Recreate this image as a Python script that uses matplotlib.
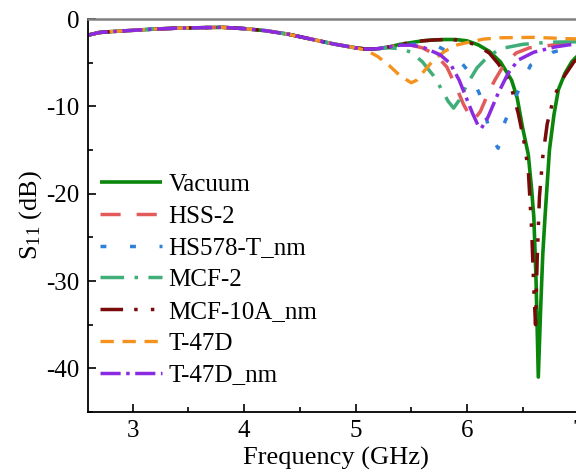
import matplotlib
matplotlib.use("Agg")
import matplotlib.pyplot as plt
from matplotlib.ticker import MultipleLocator

plt.rcParams['font.family'] = ['Liberation Serif', 'DejaVu Serif']
plt.rcParams['mathtext.fontset'] = 'custom'
plt.rcParams['mathtext.rm'] = 'Liberation Serif'
plt.rcParams['mathtext.it'] = 'Liberation Serif:italic'
plt.rcParams['axes.unicode_minus'] = False

# common part of all curves (GHz, dB)
base_f = [2.6, 2.7, 2.8, 3.0, 3.2, 3.4, 3.6, 3.8, 4.0, 4.2, 4.4, 4.6, 4.8, 5.0]
base_v = [-1.85, -1.55, -1.45, -1.3, -1.15, -1.05, -1.0, -0.95, -1.1, -1.35, -1.75, -2.3, -2.85, -3.3]

vac_f = [5.1, 5.2, 5.3, 5.4, 5.5, 5.6, 5.7, 5.8, 5.9, 6.0, 6.1, 6.2, 6.3, 6.4, 6.45, 6.5, 6.55, 6.58,
         6.6, 6.62, 6.64, 6.66, 6.68, 6.7, 6.74, 6.78, 6.82, 6.88, 6.94, 7.0, 7.05]
vac_v = [-3.45, -3.4, -3.2, -2.9, -2.7, -2.5, -2.4, -2.35, -2.35, -2.5, -2.95, -3.7, -4.9, -7.0, -9.0, -12.5,
         -15.5, -19.5, -22.7, -30.0, -41.0, -33.5, -27.0, -22.7, -15.0, -11.0, -8.1, -6.2, -4.9, -4.1, -3.6]

hss_f = [5.1, 5.2, 5.3, 5.4, 5.5, 5.6, 5.72, 5.82, 5.91, 5.97, 6.03, 6.06, 6.12, 6.19, 6.25, 6.32, 6.44,
         6.56, 6.76, 7.05]
hss_v = [-3.45, -3.4, -3.2, -3.0, -3.0, -3.3, -4.1, -5.5, -8.0, -9.8, -11.2, -11.6, -10.6, -8.5, -7.0, -5.5,
         -3.9, -3.3, -3.0, -2.6]

hs578_f = [5.1, 5.2, 5.3, 5.4, 5.5, 5.6, 5.72, 5.85, 5.95, 6.02, 6.11, 6.17, 6.22, 6.28, 6.33, 6.41, 6.5,
           6.57, 6.77, 7.05]
hs578_v = [-3.45, -3.4, -3.2, -3.0, -2.9, -2.9, -3.0, -3.9, -5.0, -6.1, -8.5, -11.2, -13.6, -14.8, -12.1,
           -9.6, -7.2, -5.3, -3.8, -2.9]

mcf2_f = [5.1, 5.2, 5.3, 5.4, 5.5, 5.6, 5.7, 5.77, 5.83, 5.88, 5.93, 6.0, 6.09, 6.18, 6.3, 6.5, 6.75, 7.05]
mcf2_v = [-3.45, -3.4, -3.3, -3.4, -3.8, -4.9, -6.5, -8.0, -9.4, -10.2, -9.3, -7.5, -5.6, -4.4, -3.4, -2.9,
          -2.65, -2.6]

mcf10_f = [5.1, 5.2, 5.3, 5.4, 5.5, 5.6, 5.7, 5.8, 5.9, 6.0, 6.1, 6.2, 6.28, 6.38, 6.46, 6.51, 6.55, 6.58,
           6.6, 6.615, 6.63, 6.65, 6.68, 6.72, 6.78, 6.87, 6.96, 7.05]
mcf10_v = [-3.45, -3.4, -3.2, -2.9, -2.7, -2.5, -2.4, -2.35, -2.4, -2.6, -3.1, -3.9, -5.1, -7.0, -10.8, -13.9,
           -17.3, -24.0, -31.0, -35.0, -27.5, -20.4, -15.8, -12.0, -8.9, -6.6, -4.9, -4.0]

t47_f = [5.1, 5.2, 5.3, 5.4, 5.5, 5.55, 5.6, 5.7, 5.8, 5.9, 6.0, 6.15, 6.3, 6.6, 6.9, 7.05]
t47_v = [-3.6, -4.3, -5.3, -6.5, -7.3, -7.0, -6.2, -4.7, -3.7, -3.0, -2.7, -2.3, -2.15, -2.1, -2.25, -2.3]

t47nm_f = [5.1, 5.2, 5.3, 5.4, 5.5, 5.6, 5.76, 5.85, 5.93, 5.99, 6.05, 6.1, 6.13, 6.19, 6.28, 6.37, 6.46,
           6.6, 6.79, 7.05]
t47nm_v = [-3.45, -3.4, -3.2, -3.0, -3.0, -3.2, -4.1, -5.1, -7.0, -8.9, -10.8, -12.2, -12.5, -11.2, -8.5,
           -6.2, -4.7, -3.8, -3.2, -2.7]

labels = ['Vacuum', 'HSS-2', 'HS578-T_nm', 'MCF-2', 'MCF-10A_nm', 'T-47D', 'T-47D_nm']
tails_f = [vac_f, hss_f, hs578_f, mcf2_f, mcf10_f, t47_f, t47nm_f]
tails_v = [vac_v, hss_v, hs578_v, mcf2_v, mcf10_v, t47_v, t47nm_v]

colors = ['#0a860a', '#e25a5a', '#2f80d8', '#3fae78', '#780a0a', '#f5921e', '#8a2be2']
dashes = [None, (5.8, 4.6), (1.7, 6.8), (6.8, 3.0, 1.0, 3.0), (6.5, 3.2, 1.0, 3.8, 1.0, 3.8),
          (4.0, 2.6), (5.8, 1.6, 1.0, 1.6)]
widths = [2.6, 2.5, 2.5, 2.5, 2.5, 2.4, 2.5]

fig = plt.figure(figsize=(5.76, 4.75), dpi=100)
ax = fig.add_axes([88 / 576, 1 - 412 / 475, 496 / 576, (412 - 19) / 475])

for lab, tf, tv, c, d, w in zip(labels, tails_f, tails_v, colors, dashes, widths):
    line, = ax.plot(base_f + tf, base_v + tv, color=c, lw=w, label=lab,
                    solid_capstyle='butt', dash_capstyle='butt')
    if d is not None:
        line.set_dashes(d)

ax.set_xlim(2.6, 7.05)
ax.set_ylim(-45, 0)
ax.xaxis.set_major_locator(MultipleLocator(1))
ax.xaxis.set_minor_locator(MultipleLocator(0.5))
ax.yaxis.set_major_locator(MultipleLocator(10))
ax.yaxis.set_minor_locator(MultipleLocator(5))
ax.tick_params(which='both', direction='in', top=False, right=False, labelsize=18)
ax.tick_params(which='major', length=6, width=1.2, pad=6)
ax.tick_params(which='minor', length=3.5, width=1.2)
ax.spines['right'].set_visible(False)
ax.spines['top'].set_color('#808080')
ax.spines['top'].set_linewidth(1.8)
ax.spines['left'].set_linewidth(1.3)
ax.spines['bottom'].set_linewidth(1.3)

ax.set_xlabel('Frequency (GHz)', fontsize=19, labelpad=3)
ax.set_ylabel(r'$\mathregular{S_{11}}$ (dB)', fontsize=19, labelpad=2)

leg = ax.legend(loc='upper left', bbox_to_anchor=(0.024, 0.607), frameon=False, fontsize=18,
                handlelength=2.5, handletextpad=0.25, labelspacing=0.37, borderaxespad=0.0,
                borderpad=0.0)

fig.savefig('out.png', dpi=100)
